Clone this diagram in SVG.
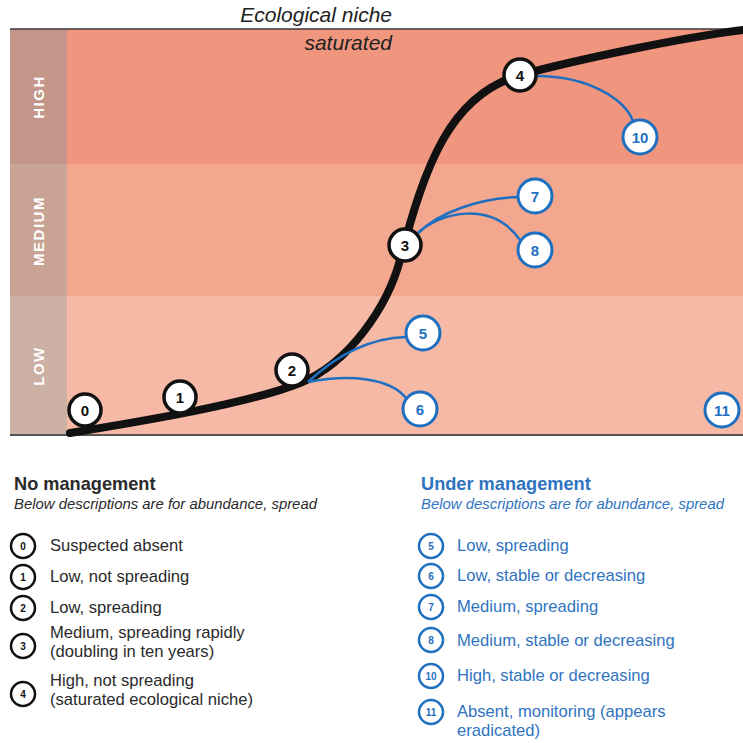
<svg xmlns="http://www.w3.org/2000/svg" width="743" height="743" viewBox="0 0 743 743">
<defs>
<style>
.bn circle{fill:#fff;stroke:#111;stroke-width:3.5}
.un circle{fill:#fff;stroke:#1f6fc0;stroke-width:3}
.bn text{font:bold 15px "Liberation Sans",Arial,sans-serif;fill:#111;text-anchor:middle}
.un text{font:bold 15px "Liberation Sans",Arial,sans-serif;fill:#1f6fc0;text-anchor:middle}
.lvl{font:bold 15px "Liberation Sans",Arial,sans-serif;fill:#fff;text-anchor:middle;letter-spacing:1.5px}
.title{font:italic 21px "Liberation Sans",Arial,sans-serif;fill:#222;text-anchor:end}
.hd{font:bold 18.2px "Liberation Sans",Arial,sans-serif}
.sub{font:italic 14.9px "Liberation Sans",Arial,sans-serif}
.it{font:16.6px "Liberation Sans",Arial,sans-serif}
.lk .it,.lk .hd,.lk .sub{fill:#2a2a2a}
.lb .it,.lb .hd,.lb .sub{fill:#2f74c0}
.lk circle{fill:#fff;stroke:#111;stroke-width:2.5}
.lb circle{fill:#fff;stroke:#1f6fc0;stroke-width:2.5}
.lk .n{font:bold 10px "Liberation Sans",Arial,sans-serif;fill:#111;text-anchor:middle}
.lb .n{font:bold 10px "Liberation Sans",Arial,sans-serif;fill:#1f6fc0;text-anchor:middle}
.blue{fill:none;stroke:#1f6fc0;stroke-width:2.5}
</style>
</defs>
<rect width="743" height="743" fill="#fff"/>
<g id="bands">
<rect x="10" y="29" width="733" height="135" fill="#f0957e"/>
<rect x="10" y="164" width="733" height="132" fill="#f4a78f"/>
<rect x="10" y="296" width="733" height="139" fill="#f6b9a6"/>
<rect x="10" y="29" width="57" height="135" fill="#c4968a"/>
<rect x="10" y="164" width="57" height="132" fill="#c9a394"/>
<rect x="10" y="296" width="57" height="139" fill="#cdb0a4"/>
<text class="lvl" transform="translate(44,97) rotate(-90)">HIGH</text>
<text class="lvl" transform="translate(44,231) rotate(-90)">MEDIUM</text>
<text class="lvl" transform="translate(44,366) rotate(-90)">LOW</text>
<line x1="10" y1="29" x2="743" y2="29" stroke="#3a3a3a" stroke-width="1.5"/>
<line x1="10" y1="435" x2="743" y2="435" stroke="#555" stroke-width="2"/>
</g>
<g id="title">
<text class="title" x="392" y="22">Ecological niche</text>
<text class="title" x="392" y="50">saturated</text>
</g>
<g id="connectors">
<path id="curve" d="M70,433 C150,420 250,403 300,383 C350,363 388,305 400,260 C425,165 450,95 520,75 C580,59 680,38 743,30" fill="none" stroke="#111" stroke-width="8" stroke-linecap="round"/>
<path class="blue" d="M536,76 C590,76 625,100 633,121"/>
<path class="blue" d="M418,233 C440,212 480,198 518,197"/>
<path class="blue" d="M418,233 C440,212 492,200 520,240"/>
<path class="blue" d="M308,382 C340,352 372,338 406,337"/>
<path class="blue" d="M308,382 C350,374 390,378 406,398"/>
</g>
<g id="n0" class="bn"><circle cx="85" cy="410" r="16"/><text x="85" y="415.5">0</text></g>
<g id="n1" class="bn"><circle cx="180" cy="397" r="16"/><text x="180" y="402.5">1</text></g>
<g id="n2" class="bn"><circle cx="292" cy="370" r="16"/><text x="292" y="375.5">2</text></g>
<g id="n3" class="bn"><circle cx="405" cy="245" r="16"/><text x="405" y="250.5">3</text></g>
<g id="n4" class="bn"><circle cx="520" cy="75" r="16"/><text x="520" y="80.5">4</text></g>
<g id="n5" class="un"><circle cx="423" cy="333" r="17"/><text x="423" y="338.5">5</text></g>
<g id="n6" class="un"><circle cx="420" cy="409" r="17"/><text x="420" y="414.5">6</text></g>
<g id="n7" class="un"><circle cx="535" cy="196" r="17"/><text x="535" y="201.5">7</text></g>
<g id="n8" class="un"><circle cx="535" cy="250" r="17"/><text x="535" y="255.5">8</text></g>
<g id="n10" class="un"><circle cx="640" cy="137" r="17"/><text x="640" y="142.5">10</text></g>
<g id="n11" class="un"><circle cx="722" cy="410" r="17"/><text x="722" y="415.5">11</text></g>
<g id="legend-left" class="lk">
<text class="hd" x="14" y="490">No management</text>
<text class="sub" x="14" y="509">Below descriptions are for abundance, spread</text>
<circle cx="23" cy="546" r="12"/><text class="n" x="23" y="549.5">0</text>
<text class="it" x="50" y="551">Suspected absent</text>
<circle cx="23" cy="577" r="12"/><text class="n" x="23" y="580.5">1</text>
<text class="it" x="50" y="582">Low, not spreading</text>
<circle cx="23" cy="608" r="12"/><text class="n" x="23" y="611.5">2</text>
<text class="it" x="50" y="613">Low, spreading</text>
<circle cx="23" cy="646" r="12"/><text class="n" x="23" y="649.5">3</text>
<text class="it" x="50" y="638">Medium, spreading rapidly</text>
<text class="it" x="50" y="657">(doubling in ten years)</text>
<circle cx="23" cy="694" r="12"/><text class="n" x="23" y="697.5">4</text>
<text class="it" x="50" y="686">High, not spreading</text>
<text class="it" x="50" y="705">(saturated ecological niche)</text>
</g>
<g id="legend-right" class="lb">
<text class="hd" x="421" y="490">Under management</text>
<text class="sub" x="421" y="509">Below descriptions are for abundance, spread</text>
<circle cx="431" cy="546" r="12"/><text class="n" x="431" y="549.5">5</text>
<text class="it" x="457" y="551">Low, spreading</text>
<circle cx="431" cy="576" r="12"/><text class="n" x="431" y="579.5">6</text>
<text class="it" x="457" y="581">Low, stable or decreasing</text>
<circle cx="431" cy="607" r="12"/><text class="n" x="431" y="610.5">7</text>
<text class="it" x="457" y="612">Medium, spreading</text>
<circle cx="431" cy="640" r="12"/><text class="n" x="431" y="643.5">8</text>
<text class="it" x="457" y="646">Medium, stable or decreasing</text>
<circle cx="431" cy="676" r="12"/><text class="n" x="431" y="679.5">10</text>
<text class="it" x="457" y="681">High, stable or decreasing</text>
<circle cx="431" cy="712" r="12"/><text class="n" x="431" y="715.5">11</text>
<text class="it" x="457" y="717">Absent, monitoring (appears</text>
<text class="it" x="457" y="736">eradicated)</text>
</g>
</svg>
